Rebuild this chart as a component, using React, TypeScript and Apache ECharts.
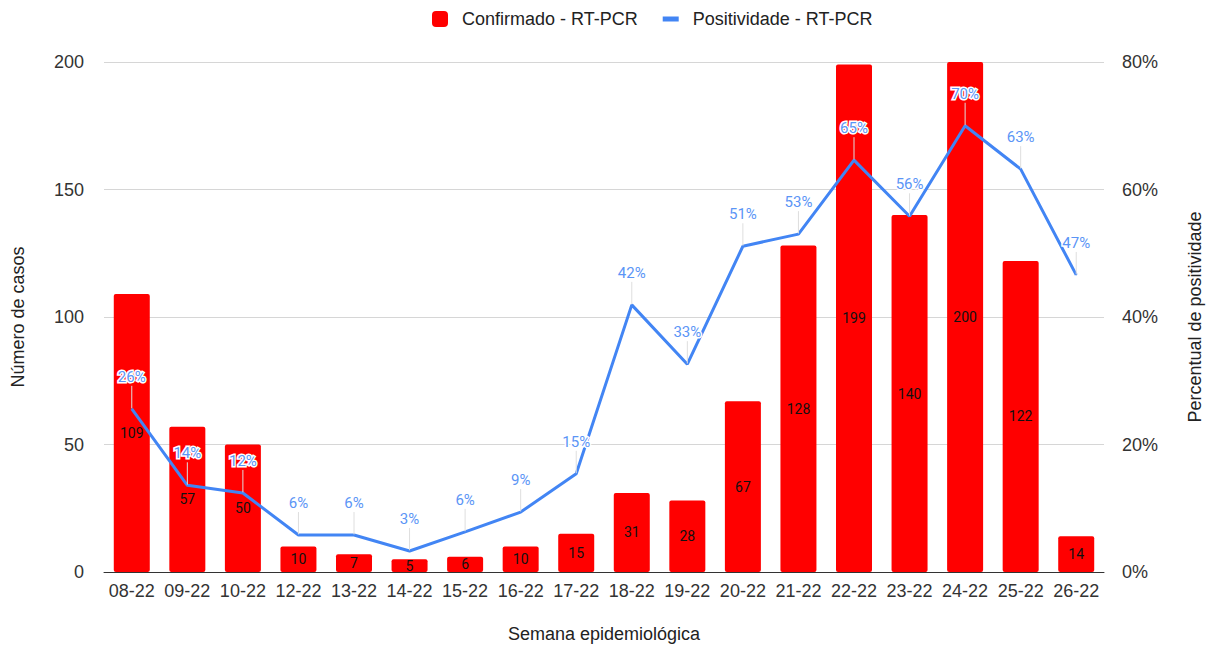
import React, { useEffect, useRef } from "react";
import * as echarts from "echarts";

const categories = ["08-22","09-22","10-22","12-22","13-22","14-22","15-22","16-22","17-22","18-22","19-22","20-22","21-22","22-22","23-22","24-22","25-22","26-22"];
const confirmados = [109, 57, 50, 10, 7, 5, 6, 10, 15, 31, 28, 67, 128, 199, 140, 200, 122, 14];
const positividade = [25.6, 13.6, 12.4, 5.8, 5.8, 3.3, 6.3, 9.4, 15.4, 41.9, 32.6, 51.1, 53.0, 64.6, 55.8, 70.0, 63.2, 46.6];
const leftTicks = { min: 0, max: 200, interval: 50 };
const rightTicks = { min: 0, max: 80, interval: 20 };

const AXFONT = "Arial, 'Liberation Sans', sans-serif";
const DFONT = "Roboto, Arial, sans-serif";

export default function App() {
  const ref = useRef<HTMLDivElement>(null);
  useEffect(() => {
    if (!ref.current) return;
    const chart = echarts.init(ref.current, undefined, { renderer: "svg" });
    chart.setOption({
      animation: false,
      textStyle: { fontFamily: AXFONT },
      legend: {
        top: 5,
        left: 427,
        itemGap: 25,
        itemWidth: 16,
        itemHeight: 16,
        textStyle: { fontSize: 18, color: "#222", fontFamily: AXFONT, padding: [0, 0, 0, 9] },
        data: [
          { name: "Confirmado - RT-PCR", icon: "roundRect" },
          { name: "Positividade - RT-PCR", icon: "path://M0,0H16V5H0Z", itemStyle: { color: "#4285F4" } },
        ],
      },
      grid: { left: 104, right: 107, top: 62, bottom: 75, outerBoundsMode: "none", containLabel: false },
      xAxis: {
        type: "category",
        data: categories,
        name: "Semana epidemiológica",
        nameLocation: "middle",
        nameGap: 53,
        nameTextStyle: { fontSize: 18, color: "#222", fontFamily: AXFONT },
        axisLine: { show: true, lineStyle: { color: "#333", width: 1 } },
        axisTick: { show: false },
        axisLabel: { fontSize: 18, color: "#333", margin: 10, interval: 0, fontFamily: AXFONT },
      },
      yAxis: [
        {
          type: "value",
          ...leftTicks,
          name: "Número de casos",
          nameLocation: "middle",
          nameGap: 77,
          nameTextStyle: { fontSize: 18, color: "#222", fontFamily: AXFONT },
          axisLine: { show: false },
          axisTick: { show: false },
          axisLabel: { fontSize: 18, color: "#333", margin: 20, fontFamily: AXFONT },
          splitLine: { lineStyle: { color: "#d6d6d6", width: 1 } },
        },
        {
          type: "value",
          ...rightTicks,
          name: "Percentual de positividade",
          nameLocation: "middle",
          nameGap: 82,
          nameRotate: 90,
          nameTextStyle: { fontSize: 18, color: "#222", fontFamily: AXFONT },
          axisLine: { show: false },
          axisTick: { show: false },
          axisLabel: { fontSize: 18, color: "#333", margin: 18, formatter: "{value}%", fontFamily: AXFONT },
          splitLine: { show: false },
        },
      ],
      series: [
        {
          name: "Confirmado - RT-PCR",
          type: "bar",
          data: confirmados,
          barWidth: 36,
          itemStyle: { color: "#FF0000", borderRadius: 2 },
          label: { show: true, position: "inside", color: "#111", fontSize: 14, fontFamily: DFONT },
          z: 2,
        },
        {
          name: "Positividade - RT-PCR",
          type: "line",
          yAxisIndex: 1,
          data: positividade,
          symbol: "circle",
          symbolSize: 1,
          showSymbol: true,
          lineStyle: { color: "#4285F4", width: 3 },
          itemStyle: { color: "#4285F4" },
          label: {
            show: true,
            position: "top",
            distance: 6,
            color: "#5b95f6",
            fontSize: 15,
            fontFamily: DFONT,
            textBorderColor: "#fff",
            textBorderWidth: 3,
            formatter: (p: any) => Math.round(p.value) + "%",
          },
          labelLayout: { dy: -18 },
          labelLine: { show: true, lineStyle: { color: "#dedede", width: 1 } },
          z: 3,
        },
      ],
    });
    return () => chart.dispose();
  }, []);
  return (
    <div
      ref={ref}
      style={{ position: "absolute", left: 0, top: 0, width: 1211, height: 647 }}
    />
  );
}
